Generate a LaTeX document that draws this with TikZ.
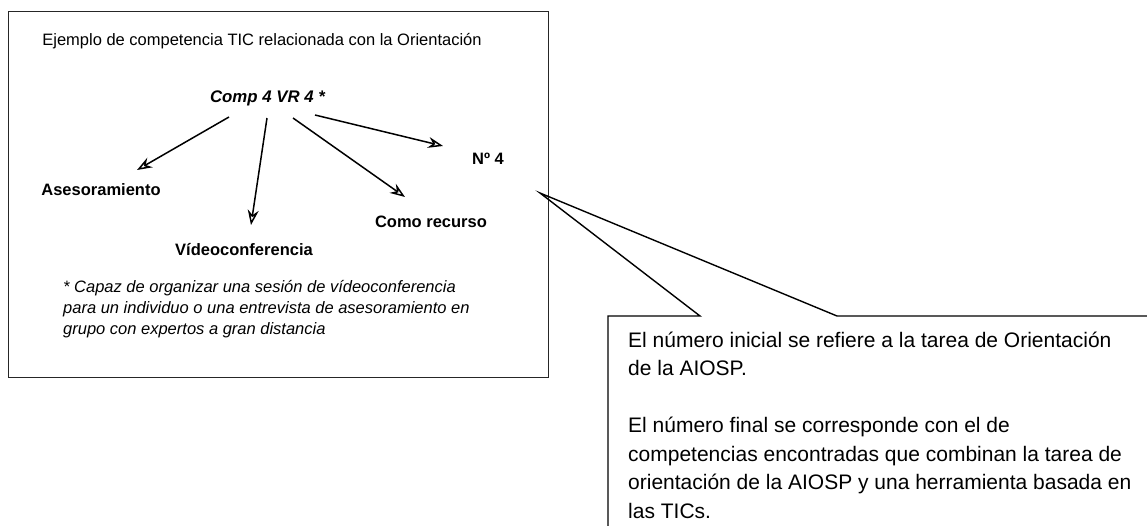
\documentclass[tikz,border=0pt]{standalone}
\usepackage{fontspec}
\setmainfont{Liberation Sans}
\usetikzlibrary{arrows.meta}
\tikzset{
  lbl/.style={inner sep=0pt, anchor=base, font=\fontsize{16.5}{20}\selectfont\bfseries},
  ttl/.style={inner sep=0pt, anchor=base, font=\fontsize{16.5}{20}\selectfont},
  fnote/.style={inner sep=0pt, anchor=base west, font=\fontsize{16.5}{20}\selectfont\itshape},
  ctext/.style={inner sep=0pt, anchor=base west, font=\fontsize{21}{24}\selectfont},
  arr/.style={line width=1.5pt, -{Stealth[open,length=15pt,width=11pt,inset=5pt]}},
  frame/.style={line width=1.2pt, draw=black!85},
}
\begin{document}
\begin{tikzpicture}[x=1pt,y=-1pt]
\useasboundingbox (0,0) rectangle (1147,525);
\fill[white] (0,0) rectangle (1147,525);
% left frame
\node[frame, draw, minimum width=540pt, minimum height=366pt, anchor=north west, inner sep=0pt] (box) at (8,11) {};
\node[ttl] (title) at (262,45) {Ejemplo de competencia TIC relacionada con la Orientación};
\node[lbl, font=\fontsize{16.8}{20}\selectfont\bfseries\itshape] (comp) at (267.5,102) {Comp 4 VR 4 *};
\node[lbl] (ases) at (101,195) {Asesoramiento};
\node[lbl] (video) at (244,255) {Vídeoconferencia};
\node[lbl] (recurso) at (431,227) {Como recurso};
\node[lbl] (num) at (488,164) {Nº 4};
\coordinate (s1) at (229,117); \coordinate (e1) at (137,170);
\coordinate (s2) at (267,118); \coordinate (e2) at (251,225);
\coordinate (s3) at (293,118); \coordinate (e3) at (405,197);
\coordinate (s4) at (315,115); \coordinate (e4) at (443,146);
\draw[arr] (s1) -- (e1);
\draw[arr] (s2) -- (e2);
\draw[arr] (s3) -- (e3);
\draw[arr] (s4) -- (e4);
\node[fnote] (f1) at (63,292) {* Capaz de organizar una sesión de vídeoconferencia};
\node[fnote] (f2) at (63,313) {para un individuo o una entrevista de asesoramiento en};
\node[fnote] (f3) at (63,334) {grupo con expertos a gran distancia};
% callout
\coordinate (tip) at (540,193);
\draw[line width=1.4pt, line join=miter] (1160,316) -- (837,316) -- (tip) -- (700,316) -- (608,316) -- (608,540);
\node[ctext] (c1) at (628,347) {El número inicial se refiere a la tarea de Orientación};
\node[ctext] (c2) at (628,375.5) {de la AIOSP.};
\node[ctext] (c3) at (628,432.5) {El número final se corresponde con el de};
\node[ctext] (c4) at (628,461) {competencias encontradas que combinan la tarea de};
\node[ctext] (c5) at (628,489.5) {orientación de la AIOSP y una herramienta basada en};
\node[ctext] (c6) at (628,518) {las TICs.};
\end{tikzpicture}
\end{document}
